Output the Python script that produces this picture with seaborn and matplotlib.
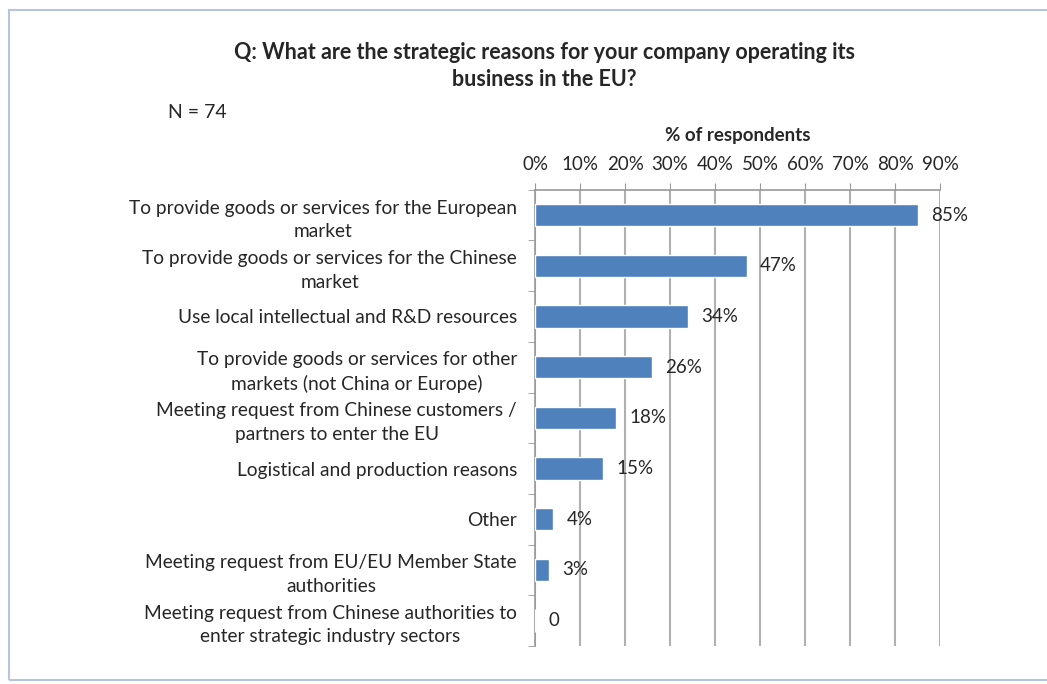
import matplotlib.pyplot as plt
import matplotlib.patches as patches
import seaborn as sns
import pandas as pd

reasons = [
    "To provide goods or services for the European\nmarket",
    "To provide goods or services for the Chinese\nmarket",
    "Use local intellectual and R&D resources",
    "To provide goods or services for other\nmarkets (not China or Europe)",
    "Meeting request from Chinese customers /\npartners to enter the EU",
    "Logistical and production reasons",
    "Other",
    "Meeting request from EU/EU Member State\nauthorities",
    "Meeting request from Chinese authorities to\nenter strategic industry sectors",
]
share = [85, 47, 34, 26, 18, 15, 4, 3, 0]
value_labels = ["85%", "47%", "34%", "26%", "18%", "15%", "4%", "3%", "0"]
xticks = [0, 10, 20, 30, 40, 50, 60, 70, 80, 90]

sns.set_style("white")
plt.rcParams['font.family'] = ['Lato', 'DejaVu Sans']

df = pd.DataFrame({"reason": reasons, "share": share})

fig = plt.figure(figsize=(10.47, 6.84), dpi=100)
ax = fig.add_axes([0.511, 0.0556, 0.387, 0.667])

sns.barplot(data=df, x="share", y="reason", orient="h", color="#4F81BD",
            saturation=1, width=0.44, ax=ax, zorder=3)

ax.set_xlim(0, 90)
ax.set_ylim(len(reasons) - 0.5, -0.5)
ax.xaxis.tick_top()
ax.xaxis.set_label_position("top")
ax.set_xticks(xticks)
ax.set_xticklabels([f"{t}%" for t in xticks], fontsize=13.5)
ax.set_xlabel("% of respondents", fontsize=13.5, fontweight="bold", labelpad=11)
ax.set_ylabel("")
ax.tick_params(axis="x", length=5, color="#999999", pad=7, top=True)
ax.tick_params(axis="y", which="major", length=0, pad=13, labelsize=13.8)
ax.set_yticks(range(len(reasons)))
ax.set_yticklabels(reasons, ha="right", multialignment="center", linespacing=1.45)
ax.set_yticks([i - 0.5 for i in range(len(reasons) + 1)], minor=True)
ax.tick_params(axis="y", which="minor", length=5, color="#999999", left=True)
ax.grid(axis="x", color="#b0b0b0", linewidth=1.5, zorder=0)
for s in ["right", "bottom"]:
    ax.spines[s].set_visible(False)
for s in ["left", "top"]:
    ax.spines[s].set_color("#999999")
    ax.spines[s].set_linewidth(1.2)

for i, (v, lab) in enumerate(zip(share, value_labels)):
    ax.text(v + 3.0, i, lab, va="center", ha="left", fontsize=13.5)

fig.text(0.52, 0.9035, "Q: What are the strategic reasons for your company operating its\nbusiness in the EU?",
         ha="center", va="center", fontsize=15.5, fontweight="bold", linespacing=1.3)
fig.text(0.160, 0.836, "N = 74", ha="left", va="center", fontsize=14)

frame = patches.Rectangle((0.009, 0.006), 1.2, 0.979, transform=fig.transFigure,
                          fill=False, edgecolor="#b8c4dc", linewidth=1.5)
fig.add_artist(frame)

fig.savefig("out.png", dpi=100)
